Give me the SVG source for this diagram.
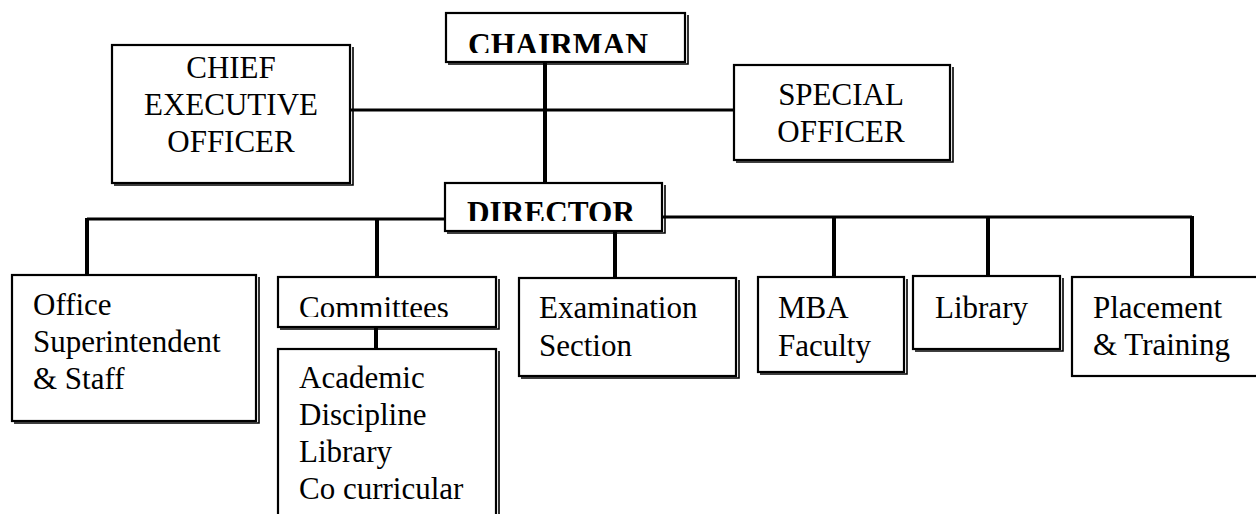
<svg xmlns="http://www.w3.org/2000/svg" xmlns:xlink="http://www.w3.org/1999/xlink" width="1256" height="514" viewBox="0 0 1256 514">
<style>
.bg{fill:#fff}
.box{fill:#fff;stroke:#000;stroke-width:2.2}
.sh{fill:none;stroke:#000;stroke-width:1.6}
.t{font-family:"Liberation Serif","Times New Roman",serif;font-size:31px;fill:#000}
.b{font-weight:bold}
.c{text-anchor:middle}
.h{fill:none;stroke:#000;stroke-width:3}
.v{fill:none;stroke:#000;stroke-width:4}
.vi{fill:none;stroke:#fff;stroke-width:1}
</style>
<defs>
<clipPath id="clipChair"><rect x="446" y="13" width="240" height="40"/></clipPath>
<clipPath id="clipDir"><rect x="445" y="183" width="218" height="38"/></clipPath>
<clipPath id="clipCom"><rect x="278" y="277" width="219" height="40"/></clipPath>
</defs>
<rect class="bg" x="0" y="0" width="1256" height="514"/>
<g id="connectors">
<path class="h" d="M350,110 H735"/>
<path class="h" d="M87,219 H445"/>
<path class="h" d="M663,217 H1192"/>
<path id="v1" class="v" d="M545,62 V183"/>
<path id="v2" class="v" d="M87,218 V275"/>
<path id="v3" class="v" d="M377,218 V277"/>
<path id="v4" class="v" d="M376,327 V349"/>
<path id="v5" class="v" d="M615,231 V278"/>
<path id="v6" class="v" d="M834,216 V277"/>
<path id="v7" class="v" d="M988,216 V276"/>
<path id="v8" class="v" d="M1192,216 V277"/>
<use xlink:href="#v1" style="stroke:#fff;stroke-width:1"/>
<use xlink:href="#v2" style="stroke:#fff;stroke-width:1"/>
<use xlink:href="#v3" style="stroke:#fff;stroke-width:1"/>
<use xlink:href="#v4" style="stroke:#fff;stroke-width:1"/>
<use xlink:href="#v5" style="stroke:#fff;stroke-width:1"/>
<use xlink:href="#v6" style="stroke:#fff;stroke-width:1"/>
<use xlink:href="#v7" style="stroke:#fff;stroke-width:1"/>
<use xlink:href="#v8" style="stroke:#fff;stroke-width:1"/>
</g>
<g id="chairman">
<rect class="box" x="446" y="13" width="239" height="49"/>
<path class="sh" d="M688,15 V64 H448"/>
<text class="t b" x="468" y="55" clip-path="url(#clipChair)" textLength="180" lengthAdjust="spacingAndGlyphs">CHAIRMAN</text>
</g>
<g id="ceo">
<rect class="box" x="112" y="45" width="238" height="138"/>
<path class="sh" d="M353,47 V185 H114"/>
<text class="t c" x="231" y="78">CHIEF</text>
<text class="t c" x="231" y="115">EXECUTIVE</text>
<text class="t c" x="231" y="152">OFFICER</text>
</g>
<g id="special">
<rect class="box" x="734" y="65" width="216" height="95"/>
<path class="sh" d="M953,67 V162 H736"/>
<text class="t c" x="841" y="105">SPECIAL</text>
<text class="t c" x="841" y="142">OFFICER</text>
</g>
<g id="director">
<rect class="box" x="445" y="183" width="217" height="48"/>
<path class="sh" d="M665,185 V233 H447"/>
<text class="t b" x="467" y="223" clip-path="url(#clipDir)" textLength="168" lengthAdjust="spacingAndGlyphs">DIRECTOR</text>
</g>
<g id="office">
<rect class="box" x="12" y="275" width="244" height="146"/>
<path class="sh" d="M259,277 V423 H14"/>
<text class="t" x="33" y="315">Office</text>
<text class="t" x="33" y="352">Superintendent</text>
<text class="t" x="33" y="389">&amp; Staff</text>
</g>
<g id="committees">
<rect class="box" x="278" y="277" width="218" height="50"/>
<path class="sh" d="M499,279 V329 H280"/>
<text class="t" x="299" y="318" clip-path="url(#clipCom)">Committees</text>
</g>
<g id="committee-list">
<rect class="box" x="278" y="349" width="218" height="180"/>
<path class="sh" d="M499,351 V530"/>
<text class="t" x="299" y="388">Academic</text>
<text class="t" x="299" y="425">Discipline</text>
<text class="t" x="299" y="462">Library</text>
<text class="t" x="299" y="499">Co curricular</text>
</g>
<g id="examination">
<rect class="box" x="519" y="278" width="217" height="98"/>
<path class="sh" d="M739,280 V378 H521"/>
<text class="t" x="539" y="318">Examination</text>
<text class="t" x="539" y="356">Section</text>
</g>
<g id="mba">
<rect class="box" x="758" y="277" width="146" height="95"/>
<path class="sh" d="M907,279 V374 H760"/>
<text class="t" x="778" y="318">MBA</text>
<text class="t" x="778" y="356">Faculty</text>
</g>
<g id="library">
<rect class="box" x="913" y="276" width="147" height="73"/>
<path class="sh" d="M1063,278 V351 H915"/>
<text class="t" x="935" y="318">Library</text>
</g>
<g id="placement">
<rect class="box" x="1072" y="277" width="200" height="99"/>
<text class="t" x="1093" y="318">Placement</text>
<text class="t" x="1093" y="355">&amp; Training</text>
</g>
</svg>
